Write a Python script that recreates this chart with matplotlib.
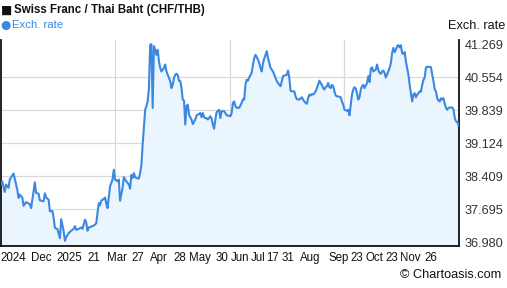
import matplotlib
matplotlib.use('Agg')
import matplotlib.pyplot as plt

# days since 26 Nov 2024, CHF/THB close
day = [0, 1, 3, 4, 6, 7, 10, 12, 13, 14, 15, 17, 18, 20, 22, 23, 24, 26, 27, 28,
       30, 31, 32, 34, 35, 36, 38, 39, 41, 42, 43, 45, 47, 48, 50, 51, 52, 54, 56, 58,
       59, 60, 62, 64, 65, 67, 68, 69, 70, 73, 75, 76, 78, 79, 80, 82, 83, 84, 85, 87,
       89, 90,
       91, 93, 94, 95, 97, 98, 100, 102, 103, 104, 105, 106, 107, 108, 110, 111, 112, 113,
       115, 116, 117, 118, 119, 120, 121, 122, 123, 124, 125, 126, 127, 128, 129, 130, 131,
       132, 134, 135, 136, 137, 138, 139, 140, 141, 142, 143, 144, 145, 146, 147, 148, 149,
       150, 152, 153, 155, 156, 158, 159, 160, 161, 162, 163, 164, 165, 167, 168, 169, 170,
       171, 172, 174, 175, 176, 178, 179, 180, 182,
       183, 184, 185, 186, 187, 188, 189, 190, 192, 193, 194, 195, 196, 197, 198, 199, 200,
       201, 202, 203, 205, 206, 207, 208, 209, 210, 211, 212, 213, 214, 215, 216, 217, 218,
       219, 220, 222, 223, 224, 225, 226, 228, 229, 230, 231, 232, 233, 234, 235, 236, 238,
       239, 240, 241, 242, 243, 244, 245, 246, 247, 248, 249, 250, 251, 252, 254, 255, 256,
       257, 258, 259, 260, 261, 262, 263, 264, 265, 266, 267, 268, 269, 271, 272, 273, 274,
       276, 277, 278, 279, 280, 281, 282, 283, 284, 285, 286, 287, 288, 289, 290, 292, 293,
       294, 295, 296, 297, 298, 299, 300, 301, 302, 303, 304, 305, 306, 307, 309, 310, 311,
       312, 313, 314, 315, 316, 317, 318, 319, 320, 321, 322, 323, 325, 326, 327, 328, 329,
       330, 331, 332, 333, 334, 335, 336, 337, 338, 339, 340, 342, 343, 344, 345, 346, 347,
       348, 349, 350, 351, 352, 353, 354, 355, 356, 357, 358, 360, 361, 362, 363, 364, 365]

rate = [38.23, 38.30, 38.07, 38.23, 38.16, 38.34, 38.47, 38.23, 38.12, 37.94,
        38.01, 37.95, 37.77, 37.85, 37.82, 37.80, 37.72, 38.08, 38.28, 38.05,
        38.03, 37.89, 37.88, 37.87, 38.04, 37.95, 37.90, 37.65, 37.66, 37.51,
        37.29, 37.27, 37.07, 37.48, 37.22, 37.01, 37.09, 37.18, 37.23, 37.27,
        37.33, 37.25, 37.27, 37.30, 37.27, 37.47, 37.41, 37.23, 37.30, 37.33,
        37.36, 37.40, 37.83, 37.78, 37.88, 37.92, 37.95, 37.82, 37.72, 38.19,
        38.34, 38.55,
        38.34, 38.30, 38.34, 37.88, 38.16, 38.39, 38.30, 38.23, 38.14, 38.44,
        38.37, 38.48, 38.39, 38.37, 38.36, 38.48, 38.66, 39.09, 39.85, 39.93,
        40.03, 40.32, 41.26, 41.27, 39.89, 41.23, 41.15, 41.04, 41.15, 40.90,
        40.76, 40.68, 40.72, 40.76, 40.83, 40.68, 40.54, 40.47, 40.32, 40.39,
        40.54, 40.61, 40.63, 40.60, 40.48, 40.47, 40.32, 40.07, 40.05, 39.53,
        39.93, 39.96, 39.74, 39.64, 39.54, 39.64, 39.73, 39.76, 39.78, 39.69,
        39.78, 39.69, 39.67, 39.67, 39.64, 39.71, 39.66, 39.53, 39.44, 39.64,
        39.80, 39.85, 39.67, 39.82, 39.82, 39.78, 39.73, 39.72,
        39.71, 39.78, 40.00, 40.03, 39.93, 39.89, 39.90, 39.89, 40.00, 40.08,
        40.07, 40.39, 40.50, 40.48, 40.55, 40.60, 40.65, 40.83, 40.97, 41.04,
        40.94, 40.86, 40.76, 40.68, 40.86, 40.96, 41.04, 41.12, 40.97, 40.86,
        40.76, 40.72, 40.68, 40.61, 40.54, 40.47, 40.39, 40.36, 40.47, 40.58,
        40.59, 40.61, 40.70, 40.54, 40.26, 40.25, 40.25, 40.25, 40.14, 40.08,
        40.07, 40.10, 40.12, 40.07, 40.03, 40.00, 39.98, 40.10, 40.18, 40.16,
        40.19, 40.18, 40.21, 40.25, 40.32, 40.48, 40.43, 40.39, 40.32, 40.29,
        40.34, 40.36, 40.43, 40.34, 40.32, 40.39, 40.36, 40.25, 40.16, 40.14,
        40.14, 40.12, 40.03, 39.96, 39.85,
        39.83, 39.85, 39.73, 39.96, 40.18, 40.29, 40.34, 40.31, 40.21, 40.07,
        40.12, 40.29, 40.36, 40.39, 40.32, 40.43, 40.58, 40.45, 40.74, 40.77,
        40.68, 40.70, 40.72, 40.83, 40.72, 40.65, 40.63, 40.68, 40.70, 40.65,
        40.55, 40.68, 40.76, 40.86, 41.08, 41.19, 41.10, 41.15, 41.23, 41.25,
        41.20, 41.25, 41.08, 41.06, 41.10, 40.90, 40.61, 40.39, 40.21, 40.03,
        40.18, 40.21, 40.12, 40.18, 40.21, 40.25, 40.24, 40.39, 40.50, 40.55,
        40.77, 40.78, 40.78, 40.77, 40.61, 40.47, 40.29, 40.25, 40.10, 40.05,
        40.03, 40.10, 40.07, 40.10, 39.98, 39.89, 39.85, 39.89, 39.90, 39.90,
        39.85, 39.67, 39.60, 39.59, 39.51]

ytick_vals = [36.980, 37.695, 38.409, 39.124, 39.839, 40.554, 41.269]
xtick_text = ['2024', 'Dec', '2025', '21', 'Mar', '27', 'Apr', '28', 'May', '30', 'Jun',
              'Jul', '17', '31', 'Aug', 'Sep', '23', 'Oct', '23', 'Nov', '26']
xtick_pos = [10.0, 31.9, 54.3, 74.2, 92.6, 109.3, 126.1, 142.8, 158.8, 176.4, 190.7,
             205.1, 216.3, 229.0, 247.0, 269.7, 283.6, 297.7, 312.0, 326.4, 343.1]

LINE = '#3b88e0'
FILL = '#ebf5fe'
GRID = '#d9d9d9'
FONT = ['Liberation Sans', 'DejaVu Sans']

plt.rcParams['font.family'] = FONT

W, H = 507, 288
fig = plt.figure(figsize=(W / 100, H / 100), dpi=100)
ax = fig.add_axes([1 / W, (H - 246) / H, 458.3 / W, 206 / H])

ymin, ymax = 36.899, 41.362
ax.set_xlim(0, 365.6)
ax.set_ylim(ymin, ymax)

ax.fill_between(day, rate, ymin, color=FILL, lw=0, zorder=1)
ax.plot(day, rate, color=LINE, lw=1.5, zorder=3, solid_joinstyle='round')

# grid: quarters on x, inner tick values on y
for k in (1, 2, 3):
    ax.axvline(365 / 4 * k, color=GRID, lw=0.9, zorder=0)
for v in ytick_vals[1:-1]:
    ax.axhline(v, color=GRID, lw=0.9, zorder=0)

ax.yaxis.tick_right()
ax.set_yticks(ytick_vals, [f'{v:.3f}' for v in ytick_vals])
ax.tick_params(axis='y', length=0, pad=4, labelsize=9.2, labelcolor='#333333')
ax.set_xticks(xtick_pos, xtick_text)
ax.tick_params(axis='x', length=0, pad=4, labelsize=8.3, labelcolor='#111111')

for s in ('left', 'bottom', 'right'):
    ax.spines[s].set_color('#111111')
    ax.spines[s].set_linewidth(1.3)
ax.spines['top'].set_visible(False)

fig.text(1 / W, 1 - 10 / H, '■', fontsize=8.6, color='#111111', va='center', ha='left',
         family=['DejaVu Sans'])
fig.text(14 / W, 1 - 10 / H, 'Swiss Franc / Thai Baht (CHF/THB)', fontsize=8.3,
         fontweight='bold', color='#111111', va='center', ha='left')
fig.text(0.5 / W, 1 - 25.5 / H, '●', fontsize=8.6, color=LINE, va='center', ha='left',
         family=['DejaVu Sans'])
fig.text(12 / W, 1 - 25.5 / H, 'Exch. rate', fontsize=8.2, color=LINE, va='center', ha='left')
fig.text(505 / W, 1 - 26 / H, 'Exch. rate', fontsize=9.2, color='#111111', va='center', ha='right')
fig.text(501 / W, 1 - 275 / H, '© Chartoasis.com', fontsize=9.2, color='#111111',
         va='center', ha='right')

fig.savefig('out.png', dpi=100)
